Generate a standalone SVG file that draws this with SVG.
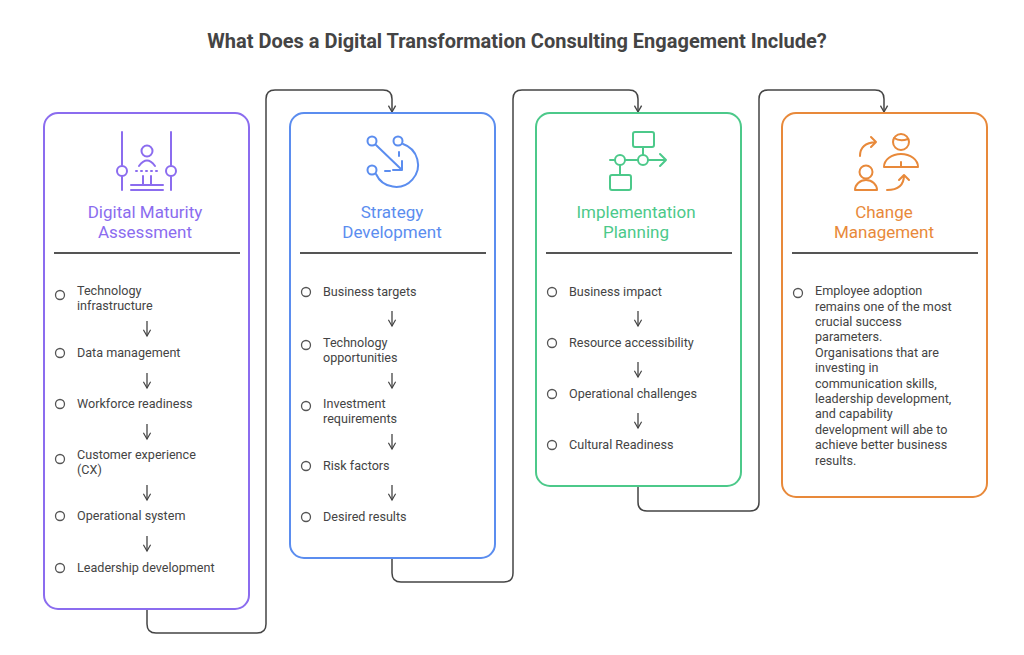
<svg xmlns="http://www.w3.org/2000/svg" width="1024" height="655" viewBox="0 0 1024 655">
<defs>
<marker id="ah" viewBox="0 0 10 10" refX="8" refY="5" markerWidth="9" markerHeight="9" markerUnits="userSpaceOnUse" orient="auto"><path d="M1,1 L8,5 L1,9" fill="none" stroke="#444" stroke-width="1.5"/></marker>
<marker id="sa" viewBox="0 0 10 10" refX="8" refY="5" markerWidth="9" markerHeight="9" markerUnits="userSpaceOnUse" orient="auto"><path d="M1,1 L8,5 L1,9" fill="none" stroke="#444" stroke-width="1.3"/></marker>
</defs>
<style>
text{font-family:Roboto,"Liberation Sans",sans-serif}
.t{font-size:12.6px;fill:#444}
.h{font-size:17px;text-anchor:middle}
.b{fill:#fff;stroke-width:2}
.dot{fill:none;stroke:#555;stroke-width:1.3}
.sep{stroke:#555;stroke-width:2}
.sm{stroke:#444;stroke-width:1.3;fill:none;marker-end:url(#sa)}
.ic{fill:none;stroke-width:2;stroke-linecap:round;stroke-linejoin:round}
</style>
<rect width="1024" height="655" fill="#fff"/>
<text x="517" y="48" text-anchor="middle" font-size="20" font-weight="bold" fill="#444">What Does a Digital Transformation Consulting Engagement Include?</text>
<g id="connectors" fill="none" stroke="#444" stroke-width="1.5">
<path d="M147,609 V624 Q147,633 156,633 H257 Q266,633 266,624 V99 Q266,90 275,90 H383 Q392,90 392,99 V112" marker-end="url(#ah)"/>
<path d="M392,558 V573 Q392,582 401,582 H504 Q513,582 513,573 V99 Q513,90 522,90 H629 Q638,90 638,99 V112" marker-end="url(#ah)"/>
<path d="M638,486 V502 Q638,511 647,511 H750 Q759,511 759,502 V99 Q759,90 768,90 H875 Q884,90 884,99 V112" marker-end="url(#ah)"/>
</g>
<g id="n1">
<rect class="b" x="44" y="113" width="205" height="496" rx="14" stroke="#8B6CEF"/>
<g class="ic" stroke="#8B6CEF">
<line x1="122" y1="132" x2="122" y2="165"/><line x1="122" y1="177" x2="122" y2="190"/>
<circle cx="122" cy="171" r="5"/>
<line x1="171" y1="132" x2="171" y2="165"/><line x1="171" y1="177" x2="171" y2="190"/>
<circle cx="171" cy="171" r="5"/>
<circle cx="147" cy="151" r="5.5"/><path d="M139,166 Q147,155 155,166"/>
<path d="M136,171 h1 M141,171 h1 M146,171 h1 M151,171 h1 M156,171 h1" />
<path d="M143,176 V184 M151,176 V184 M131,185 H163 M131,190 H163"/>
</g>
<text class="h" x="145" y="218" fill="#8B6CEF">Digital Maturity</text>
<text class="h" x="145" y="238" fill="#8B6CEF">Assessment</text>
<line class="sep" x1="54" y1="253" x2="240" y2="253"/>
<circle class="dot" cx="60" cy="295" r="4.5"/><text class="t" x="77" y="295">Technology</text><text class="t" x="77" y="310">infrastructure</text>
<path class="sm" d="M147,321 V336"/>
<circle class="dot" cx="60" cy="353" r="4.5"/><text class="t" x="77" y="357">Data management</text>
<path class="sm" d="M147,373 V388"/>
<circle class="dot" cx="60" cy="404" r="4.5"/><text class="t" x="77" y="408">Workforce readiness</text>
<path class="sm" d="M147,424 V439"/>
<circle class="dot" cx="60" cy="459" r="4.5"/><text class="t" x="77" y="459">Customer experience</text><text class="t" x="77" y="474">(CX)</text>
<path class="sm" d="M147,485 V500"/>
<circle class="dot" cx="60" cy="516" r="4.5"/><text class="t" x="77" y="520">Operational system</text>
<path class="sm" d="M147,536 V551"/>
<circle class="dot" cx="60" cy="568" r="4.5"/><text class="t" x="77" y="572">Leadership development</text>
</g>
<g id="n2">
<rect class="b" x="290" y="113" width="205" height="445" rx="14" stroke="#5B8DEF"/>
<g class="ic" stroke="#5B8DEF">
<circle cx="372" cy="141" r="4.5"/><circle cx="398" cy="141" r="4.5"/><circle cx="372" cy="170" r="4.5"/>
<path d="M376,145 L402,170 M402,161 V170 H393"/>
<path d="M385,171 H390 M399,152 V156"/>
<path d="M403,144 A22,22 0 1,1 376,174"/>
</g>
<text class="h" x="392" y="218" fill="#5B8DEF">Strategy</text>
<text class="h" x="392" y="238" fill="#5B8DEF">Development</text>
<line class="sep" x1="300" y1="253" x2="486" y2="253"/>
<circle class="dot" cx="306" cy="292" r="4.5"/><text class="t" x="323" y="296">Business targets</text>
<path class="sm" d="M392,311 V326"/>
<circle class="dot" cx="306" cy="345" r="4.5"/><text class="t" x="323" y="347">Technology</text><text class="t" x="323" y="362">opportunities</text>
<path class="sm" d="M392,373 V388"/>
<circle class="dot" cx="306" cy="406" r="4.5"/><text class="t" x="323" y="408">Investment</text><text class="t" x="323" y="423">requirements</text>
<path class="sm" d="M392,434 V449"/>
<circle class="dot" cx="306" cy="466" r="4.5"/><text class="t" x="323" y="470">Risk factors</text>
<path class="sm" d="M392,485 V500"/>
<circle class="dot" cx="306" cy="517" r="4.5"/><text class="t" x="323" y="521">Desired results</text>
</g>
<g id="n3">
<rect class="b" x="536" y="113" width="205" height="373" rx="14" stroke="#4CC98A"/>
<g class="ic" stroke="#4CC98A">
<rect x="633" y="132" width="21" height="15" rx="2"/>
<path d="M643,147 V155"/>
<rect x="610" y="175" width="21" height="15" rx="2"/>
<path d="M620,165 V175"/>
<circle cx="620" cy="160" r="5"/><circle cx="643" cy="160" r="5"/>
<path d="M610,160 H615 M625,160 H638 M648,160 H666 M660,154 L666,160 L660,166"/>
</g>
<text class="h" x="636" y="218" fill="#4CC98A">Implementation</text>
<text class="h" x="636" y="238" fill="#4CC98A">Planning</text>
<line class="sep" x1="546" y1="253" x2="732" y2="253"/>
<circle class="dot" cx="552" cy="292" r="4.5"/><text class="t" x="569" y="296">Business impact</text>
<path class="sm" d="M638,311 V326"/>
<circle class="dot" cx="552" cy="343" r="4.5"/><text class="t" x="569" y="347">Resource accessibility</text>
<path class="sm" d="M638,362 V377"/>
<circle class="dot" cx="552" cy="394" r="4.5"/><text class="t" x="569" y="398">Operational challenges</text>
<path class="sm" d="M638,413 V428"/>
<circle class="dot" cx="552" cy="445" r="4.5"/><text class="t" x="569" y="449">Cultural Readiness</text>
</g>
<g id="n4">
<rect class="b" x="782" y="113" width="205" height="384" rx="14" stroke="#E8893A"/>
<g class="ic" stroke="#E8893A">
<circle cx="901" cy="142" r="8"/><path d="M894,138 Q900,142 908,139"/>
<path d="M884,167 A17,13 0 0,1 918,167 Z M901,162 V166"/>
<circle cx="866" cy="172" r="6.5"/>
<path d="M855,190 A11,10 0 0,1 877,190 Z"/>
<path d="M860,156 Q860,143 876,142 M871,137 L876,142 L871,147"/>
<path d="M887,190 Q904,190 904,175 M899,180 L904,175 L909,180"/>
</g>
<text class="h" x="884" y="218" fill="#E8893A">Change</text>
<text class="h" x="884" y="238" fill="#E8893A">Management</text>
<line class="sep" x1="792" y1="253" x2="978" y2="253"/>
<circle class="dot" cx="798" cy="293" r="4.5"/>
<text class="t" x="815" y="295">Employee adoption</text>
<text class="t" x="815" y="311">remains one of the most</text>
<text class="t" x="815" y="326">crucial success</text>
<text class="t" x="815" y="341">parameters.</text>
<text class="t" x="815" y="357">Organisations that are</text>
<text class="t" x="815" y="372">investing in</text>
<text class="t" x="815" y="388">communication skills,</text>
<text class="t" x="815" y="403">leadership development,</text>
<text class="t" x="815" y="418">and capability</text>
<text class="t" x="815" y="434">development will abe to</text>
<text class="t" x="815" y="449">achieve better business</text>
<text class="t" x="815" y="465">results.</text>
</g>
</svg>
